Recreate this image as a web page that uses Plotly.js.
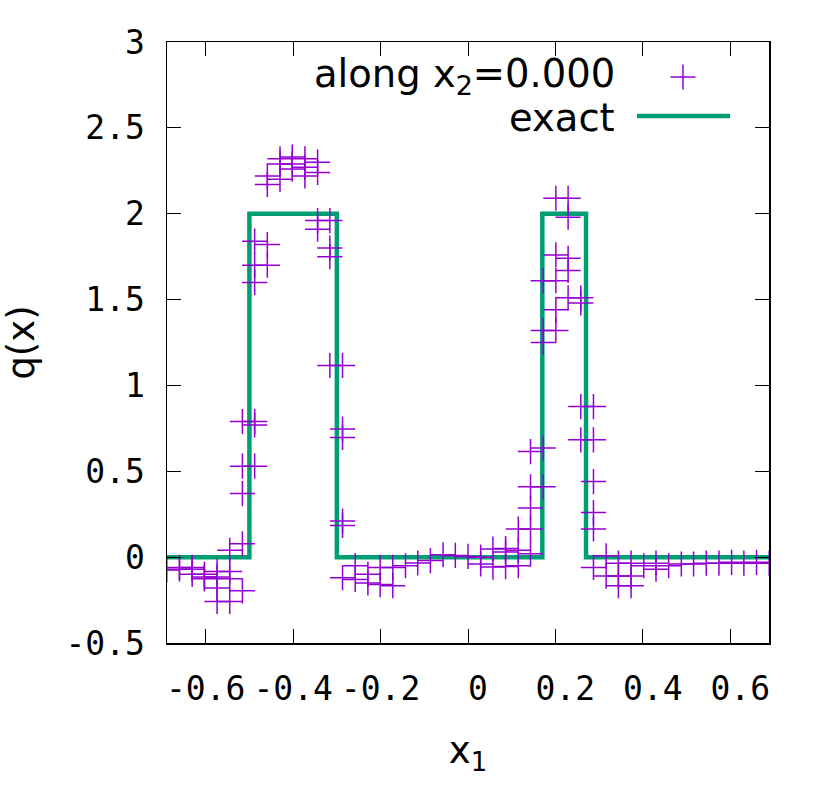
<!DOCTYPE html>
<html>
<head>
<meta charset="utf-8">
<script src="https://cdn.plot.ly/plotly-3.0.1.min.js"></script>
<style>html,body{margin:0;padding:0;background:#fff;}#chart{width:830px;height:810px;}</style>
</head>
<body>
<div id="chart"></div>
<script>
// numerical solution sampled along x2 = 0.000
const pointsX = [
  -0.689,
  -0.660, -0.660,
  -0.631, -0.631, -0.631,
  -0.603, -0.603, -0.603,
  -0.574, -0.574, -0.574, -0.574,
  -0.545, -0.545, -0.545, -0.545,
  -0.516, -0.516, -0.516, -0.516, -0.516,
  -0.488, -0.488, -0.488, -0.488, -0.488, -0.488,
  -0.459, -0.459, -0.459, -0.459,
  -0.430, -0.430, -0.430,
  -0.402, -0.402, -0.402,
  -0.373, -0.373, -0.373,
  -0.344, -0.344, -0.344, -0.344,
  -0.316, -0.316, -0.316, -0.316,
  -0.287, -0.287, -0.287, -0.287, -0.287, -0.287,
  -0.258, -0.258,
  -0.229, -0.229,
  -0.201, -0.201,
  -0.172, -0.172,
  -0.143,
  -0.115,
  -0.086,
  -0.057,
  -0.029,
  0.000,
  0.029, 0.029,
  0.057, 0.057,
  0.086, 0.086, 0.086,
  0.115, 0.115, 0.115,
  0.143, 0.143, 0.143, 0.143, 0.143,
  0.172, 0.172, 0.172, 0.172, 0.172,
  0.201, 0.201, 0.201, 0.201, 0.201,
  0.229, 0.229, 0.229, 0.229, 0.229,
  0.258, 0.258, 0.258, 0.258,
  0.287, 0.287, 0.287, 0.287, 0.287, 0.287,
  0.316, 0.316,
  0.344, 0.344, 0.344,
  0.373, 0.373, 0.373,
  0.402,
  0.430, 0.430,
  0.459,
  0.488,
  0.516,
  0.545,
  0.574,
  0.603,
  0.631,
  0.660,
  0.689
];
const pointsY = [
  -0.075,
  -0.060, -0.070,
  -0.060, -0.070, -0.100,
  -0.100, -0.116, -0.126,
  -0.083, -0.116, -0.180, -0.258,
  0.040, -0.083, -0.126, -0.258,
  0.790, 0.530, 0.370, 0.078, -0.196,
  1.840, 1.700, 1.600, 0.790, 0.770, 0.530,
  2.220, 2.170, 1.820, 1.700,
  2.320, 2.290, 2.200,
  2.330, 2.290, 2.260,
  2.320, 2.270, 2.220,
  2.300, 2.240, 1.960, 1.910,
  1.960, 1.800, 1.750, 1.116,
  1.116, 0.746, 0.697, 0.210, 0.185, -0.120,
  -0.050, -0.130,
  -0.100, -0.150,
  -0.060, -0.160,
  -0.060, -0.166,
  -0.050,
  -0.034,
  -0.020,
  0.014,
  0.010,
  0.004,
  0.000, -0.040,
  0.047, -0.058,
  0.050, 0.030, -0.055,
  0.164, 0.040, -0.050,
  0.615, 0.410, 0.286, 0.164, 0.020,
  1.610, 1.320, 1.250, 0.635, 0.410,
  2.090, 1.760, 1.610, 1.440, 1.320,
  2.090, 1.980, 1.740, 1.670, 1.510,
  1.510, 1.480, 0.877, 0.683,
  0.877, 0.683, 0.440, 0.260, 0.164, -0.060,
  0.008, -0.110,
  -0.035, -0.110, -0.166,
  -0.035, -0.110, -0.166,
  -0.050,
  -0.035, -0.070,
  -0.050,
  -0.040,
  -0.040,
  -0.035,
  -0.035,
  -0.030,
  -0.035,
  -0.030,
  -0.035
];
// exact solution (piecewise constant)
const exactX = [-0.689, -0.5, -0.5, -0.3, -0.3, 0.17, 0.17, 0.27, 0.27, 0.689];
const exactY = [0, 0, 2, 2, 0, 0, 2, 2, 0, 0];

const xTickVals = [-0.6, -0.4, -0.2, 0, 0.2, 0.4, 0.6];
const xTickText = ["-0.6", "-0.4", "-0.2", "\u00a00", "\u00a00.2", "\u00a00.4", "\u00a00.6"];
const yTickVals = [-0.5, 0, 0.5, 1, 1.5, 2, 2.5, 3];
const yTickText = ["-0.5", "0", "0.5", "1", "1.5", "2", "2.5", "3"];

const legendLabels = ["along x<sub>2</sub>=0.000", "exact"];

const PURPLE = "#9400d3";
const GREEN = "#009e73";
const tickFont = {family: "'DejaVu Sans Mono', monospace", size: 33, color: "#000"};
const textFont = {family: "'DejaVu Sans', sans-serif", size: 37, color: "#000"};
const legendFont = {family: "'DejaVu Sans', sans-serif", size: 38.5, color: "#000"};

const traces = [
  {
    x: exactX, y: exactY, type: "scatter", mode: "lines",
    line: {color: GREEN, width: 4.5}, name: "exact", hoverinfo: "skip"
  },
  {
    x: pointsX, y: pointsY, type: "scatter", mode: "markers",
    marker: {symbol: "cross-thin", size: 18, line: {color: PURPLE, width: 1.5}, color: PURPLE},
    name: "along x2=0.000"
  }
];

const L = 167, R = 769, T = 42, B = 643;
const px = v => (v - L) / (R - L);
const py = v => (B - v) / (B - T);

const layout = {
  width: 830, height: 810,
  margin: {l: L, r: 830 - R, t: T, b: 810 - B, pad: 0},
  paper_bgcolor: "#fff", plot_bgcolor: "#fff",
  showlegend: false,
  xaxis: {
    range: [-0.6885, 0.6885], showgrid: false, zeroline: false,
    showline: true, linecolor: "#000", linewidth: 1.5, mirror: "allticks",
    ticks: "inside", ticklen: 14, tickwidth: 1, tickcolor: "#000",
    tickmode: "array", tickvals: xTickVals, ticktext: xTickText,
    tickfont: tickFont, ticklabelstandoff: 16,
    title: {text: "x<sub>1</sub>", font: textFont, standoff: 30}
  },
  yaxis: {
    range: [-0.5, 3], showgrid: false, zeroline: false,
    showline: true, linecolor: "#000", linewidth: 1.5, mirror: "allticks",
    ticks: "inside", ticklen: 14, tickwidth: 1, tickcolor: "#000",
    tickmode: "array", tickvals: yTickVals, ticktext: yTickText,
    tickfont: tickFont, ticklabelstandoff: 14,
    title: {text: "q(x)", font: textFont, standoff: 24}
  },
  annotations: [
    {xref: "paper", yref: "paper", x: px(617), y: py(76), xanchor: "right", yanchor: "middle",
     text: legendLabels[0], showarrow: false, font: legendFont},
    {xref: "paper", yref: "paper", x: px(617), y: py(117), xanchor: "right", yanchor: "middle",
     text: legendLabels[1], showarrow: false, font: legendFont}
  ],
  shapes: [
    {type: "line", xref: "paper", yref: "paper", x0: px(637), x1: px(730), y0: py(116), y1: py(116),
     line: {color: GREEN, width: 4.5}},
    {type: "line", xref: "paper", yref: "paper", x0: px(670.5), x1: px(695.5), y0: py(77), y1: py(77),
     line: {color: PURPLE, width: 1.5}},
    {type: "line", xref: "paper", yref: "paper", x0: px(683), x1: px(683), y0: py(64.5), y1: py(89.5),
     line: {color: PURPLE, width: 1.5}}
  ]
};

Plotly.newPlot("chart", traces, layout, {displayModeBar: false, staticPlot: true});
</script>
</body>
</html>
